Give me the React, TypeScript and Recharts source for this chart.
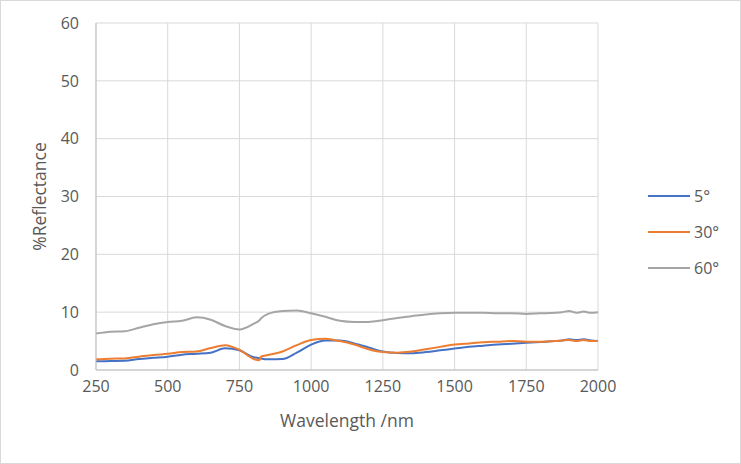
import React from "react";
import { LineChart, Line, XAxis, YAxis, CartesianGrid, Legend } from "recharts";

const wavelengths = [250, 300, 350, 400, 450, 500, 550, 600, 650, 700, 750, 800, 820, 825, 850, 900, 950, 1000, 1050, 1100, 1150, 1200, 1250, 1300, 1350, 1400, 1450, 1500, 1550, 1600, 1650, 1700, 1750, 1800, 1850, 1875, 1900, 1925, 1950, 1975, 2000];
const deg5 = [1.5, 1.55, 1.6, 1.9, 2.1, 2.3, 2.65, 2.8, 3.0, 3.75, 3.4, 2.2, 2.05, 2.0, 1.85, 1.9, 3.0, 4.4, 5.1, 5.1, 4.6, 3.9, 3.2, 2.95, 2.9, 3.1, 3.4, 3.7, 4.0, 4.2, 4.4, 4.55, 4.7, 4.85, 5.0, 5.1, 5.3, 5.2, 5.3, 5.1, 5.0];
const deg30 = [1.85, 1.95, 2.0, 2.3, 2.6, 2.8, 3.1, 3.2, 3.8, 4.3, 3.5, 1.9, 1.7, 2.3, 2.6, 3.2, 4.3, 5.2, 5.4, 5.0, 4.4, 3.6, 3.1, 3.0, 3.2, 3.6, 4.0, 4.4, 4.6, 4.8, 4.9, 5.0, 4.9, 4.9, 5.0, 5.1, 5.2, 5.0, 5.2, 5.0, 5.0];
const deg60 = [6.3, 6.6, 6.7, 7.3, 7.9, 8.3, 8.5, 9.1, 8.7, 7.6, 7.0, 8.0, 8.6, 8.9, 9.7, 10.2, 10.3, 9.8, 9.2, 8.5, 8.3, 8.3, 8.6, 9.0, 9.3, 9.6, 9.8, 9.9, 9.9, 9.9, 9.8, 9.8, 9.7, 9.8, 9.9, 10.0, 10.2, 9.9, 10.1, 9.9, 10.0];
const xTicks = [250, 500, 750, 1000, 1250, 1500, 1750, 2000];
const yTicks = [0, 10, 20, 30, 40, 50, 60];

const series = [
  { key: "d5", name: "5°", color: "#4472C4" },
  { key: "d30", name: "30°", color: "#ED7D31" },
  { key: "d60", name: "60°", color: "#A5A5A5" },
];

const data = wavelengths.map((w, i) => ({ w, d5: deg5[i], d30: deg30[i], d60: deg60[i] }));

const FONT = "'Open Sans', sans-serif";
const TEXT = "#595959";

const LegendContent = () => (
  <div style={{ fontFamily: FONT }}>
    {series.map((s) => (
      <div key={s.key} style={{ display: "flex", alignItems: "center", height: 36 }}>
        <div style={{ width: 42, height: 2, background: s.color, marginRight: 4 }} />
        <span style={{ fontSize: 16, color: TEXT }}>{s.name}</span>
      </div>
    ))}
  </div>
);

export default function App() {
  return (
    <div style={{ position: "absolute", left: 0, top: 0, width: 739, height: 462, border: "1px solid #D9D9D9", background: "#fff" }}>
      <LineChart width={739} height={462} data={data} margin={{ top: 22, right: 142, left: 0, bottom: 32 }}>
        <CartesianGrid stroke="#D9D9D9" strokeWidth={1} />
        <XAxis
          dataKey="w"
          type="number"
          domain={[250, 2000]}
          ticks={xTicks}
          tickLine={false}
          axisLine={{ stroke: "#BFBFBF" }}
          tick={{ fill: TEXT, fontSize: 16, fontFamily: FONT }}
          tickMargin={5}
          height={61}
          label={{ value: "Wavelength /nm", position: "insideBottom", offset: 4, fill: TEXT, fontSize: 17.5, fontFamily: FONT }}
        />
        <YAxis
          type="number"
          domain={[0, 60]}
          ticks={yTicks}
          tickLine={false}
          axisLine={{ stroke: "#BFBFBF" }}
          tick={{ fill: TEXT, fontSize: 16, fontFamily: FONT }}
          tickMargin={11}
          width={95}
          label={{ value: "%Reflectance", angle: -90, position: "insideLeft", offset: 39, fill: TEXT, fontSize: 17.5, fontFamily: FONT, style: { textAnchor: "middle" } }}
        />
        <Legend layout="vertical" verticalAlign="middle" align="center" content={<LegendContent />} wrapperStyle={{ left: 647, top: 177, width: 90 }} />
        {series.map((s) => (
          <Line key={s.key} dataKey={s.key} name={s.name} stroke={s.color} strokeWidth={2} dot={false} type="monotone" isAnimationActive={false} />
        ))}
      </LineChart>
    </div>
  );
}
